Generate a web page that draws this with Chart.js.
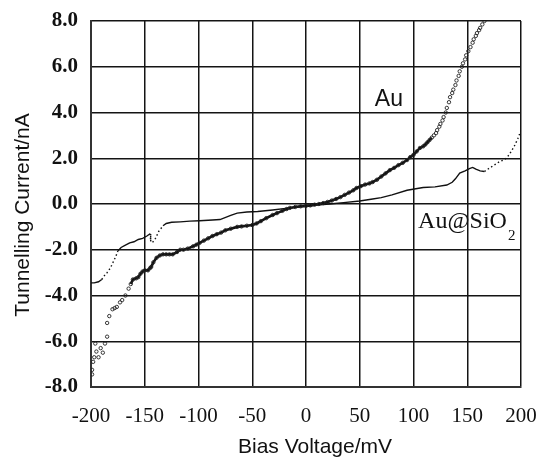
<!DOCTYPE html>
<html>
<head>
<meta charset="utf-8">
<script src="https://cdn.jsdelivr.net/npm/chart.js@4/dist/chart.umd.min.js"></script>
<style>
  html, body { margin: 0; padding: 0; background: #fff; }
  #wrap { width: 539px; height: 457px; }
</style>
</head>
<body>
<div id="wrap"><canvas id="c" width="539" height="457"></canvas></div>
<script>
// Axis ticks and their printed labels
const xTicks = [-200, -150, -100, -50, 0, 50, 100, 150, 200];
const xTickLabels = ['-200', '-150', '-100', '-50', '0', '50', '100', '150', '200'];
const yTicks = [-8, -6, -4, -2, 0, 2, 4, 6, 8];
const yTickLabels = ['-8.0', '-6.0', '-4.0', '-2.0', '0.0', '2.0', '4.0', '6.0', '8.0'];
const axisTitles = ['Bias Voltage/mV', 'Tunnelling Current/nA'];

// I–V curve of the bare Au junction (bias in mV, current in nA)
const auVoltage = [
  -199, -199, -198, -197, -196, -195, -193, -191, -189, -187, -185, -185, -183, -180, -178, -176,
  -173, -171, -168, -165, -163, -161, -158, -156, -154, -152, -150, -147, -145, -144, -142, -139,
  -136, -133, -130, -127, -124, -120, -117, -114, -110, -105, -102, -99, -95, -91, -87, -83,
  -79, -75, -70, -64, -60, -55, -50, -46, -42, -37, -31, -27, -22, -18, -15, -10,
  -5, 0, 4, 8, 12, 16, 20, 24, 28, 32, 36, 40, 44, 47, 51, 55,
  59, 62, 66, 70, 74, 78, 82, 86, 90, 94, 97, 100, 103, 106, 109, 111,
  113, 115, 117, 119, 121, 122, 124, 125, 127, 128, 130, 131, 133, 134, 136, 137,
  139, 140, 142, 143, 145, 146, 148, 149, 151, 153, 155, 156, 158, 159, 161, 162,
  164, 166
];
const auCurrent = [
  -7.45, -7.25, -6.9, -6.7, -6.1, -6.45, -6.7, -6.3, -6.5, -6.1, -5.8, -5.2, -4.9, -4.6, -4.55, -4.5,
  -4.3, -4.2, -4.0, -3.7, -3.5, -3.3, -3.25, -3.2, -3.05, -2.95, -2.9, -2.9, -2.8, -2.75, -2.55, -2.35,
  -2.25, -2.2, -2.2, -2.2, -2.2, -2.1, -2.0, -2.0, -1.95, -1.85, -1.78, -1.7, -1.6, -1.5, -1.4, -1.32,
  -1.25, -1.15, -1.08, -1.0, -0.98, -0.95, -0.92, -0.85, -0.75, -0.62, -0.48, -0.4, -0.3, -0.22, -0.17, -0.13,
  -0.1, -0.08, -0.06, -0.03, 0.0, 0.04, 0.09, 0.15, 0.22, 0.3, 0.4, 0.5, 0.6, 0.7, 0.78, 0.85,
  0.9, 0.96, 1.06, 1.2, 1.34, 1.48, 1.58, 1.7, 1.8, 1.92, 2.05, 2.15, 2.3, 2.45, 2.52, 2.6,
  2.7, 2.8, 2.9, 3.0, 3.1, 3.23, 3.38, 3.5, 3.65, 3.8, 4.0, 4.2, 4.45, 4.67, 4.85, 5.0,
  5.2, 5.4, 5.6, 5.8, 6.0, 6.15, 6.32, 6.5, 6.68, 6.86, 7.05, 7.2, 7.35, 7.47, 7.6, 7.7,
  7.85, 8.0
];

// I–V curve of the silica-coated Au@SiO2 junction
const sio2Voltage = [
  -200, -197, -193, -190, -187, -185, -182, -180, -177, -175, -172, -168, -164, -160, -156, -152,
  -148, -145, -144.5, -143, -140, -137, -133, -130, -125, -117, -108, -99, -87, -80, -70, -64,
  -55, -45, -31, -15, 0, 10, 22, 35, 50, 62, 70, 80, 94, 109, 120, 131,
  136, 139, 143, 148, 152, 155, 158, 162, 166, 170, 175, 180, 185, 188, 191, 194,
  197, 199, 200
];
const sio2Current = [
  -3.45, -3.45, -3.4, -3.3, -3.1, -3.0, -2.8, -2.6, -2.3, -2.05, -1.9, -1.8, -1.7, -1.65, -1.55, -1.5,
  -1.4, -1.3, -1.6, -1.7, -1.5, -1.2, -0.95, -0.85, -0.8, -0.78, -0.75, -0.73, -0.7, -0.68, -0.5, -0.4,
  -0.35, -0.33, -0.26, -0.17, -0.1, -0.05, 0.0, 0.06, 0.13, 0.22, 0.28, 0.4, 0.6, 0.72, 0.75, 0.83,
  0.95, 1.1, 1.35, 1.45, 1.55, 1.6, 1.52, 1.45, 1.42, 1.55, 1.7, 1.85, 1.95, 2.1, 2.3, 2.55,
  2.85, 3.1, 3.2
];

// In-plot curve labels: text and anchor (mV, nA) of the left baseline
const curveLabels = ['Au', 'Au@SiO', '2'];
const auLabelAt = [64, 4.28];
const sio2LabelAt = [104.3, -1.05];

const toPoints = (xs, ys) => xs.map((x, i) => ({ x: x, y: ys[i] }));

const SANS = '"Liberation Sans", Arial, sans-serif';
const SERIF = '"Liberation Serif", "Times New Roman", serif';

// Curve labels and axis titles, placed relative to the scales
const annotationPlugin = {
  id: 'annotations',
  afterDraw(chart) {
    const { ctx, chartArea, scales: { x, y } } = chart;
    ctx.save();
    ctx.fillStyle = '#111';
    ctx.textAlign = 'left';
    ctx.textBaseline = 'alphabetic';
    ctx.font = '23px ' + SANS;
    ctx.fillText(curveLabels[0], x.getPixelForValue(auLabelAt[0]), y.getPixelForValue(auLabelAt[1]));
    ctx.font = '24px ' + SERIF;
    const sx = x.getPixelForValue(sio2LabelAt[0]);
    const sy = y.getPixelForValue(sio2LabelAt[1]);
    ctx.fillText(curveLabels[1], sx, sy);
    const w = ctx.measureText(curveLabels[1]).width;
    ctx.font = '15px ' + SERIF;
    ctx.fillText(curveLabels[2], sx + w + 1, sy + 12);

    // axis titles
    ctx.font = '21px ' + SANS;
    ctx.textAlign = 'center';
    ctx.fillText(axisTitles[0], (chartArea.left + chartArea.right) / 2 + 9, 453);
    ctx.translate(29, (chartArea.top + chartArea.bottom) / 2 + 11);
    ctx.rotate(-Math.PI / 2);
    ctx.fillText(axisTitles[1], 0, 0);
    ctx.restore();
  }
};

const gridColor = '#141414';

new Chart(document.getElementById('c'), {
  type: 'scatter',
  data: {
    datasets: [
      {
        label: 'Au',
        data: toPoints(auVoltage, auCurrent),
        showLine: true,
        borderColor: '#111',
        borderWidth: 2.6,
        pointRadius: 1.7,
        pointBorderWidth: 0.9,
        pointBorderColor: '#222',
        pointBackgroundColor: 'rgba(255,255,255,0)',
        pointHoverRadius: 1.7,
        segment: {
          borderColor: ctx => (ctx.p0.parsed.y > 2.95 || ctx.p1.parsed.y > 2.95 ||
                               ctx.p0.parsed.y < -3.6 || ctx.p1.parsed.y < -3.6) ? 'rgba(0,0,0,0)' : undefined
        }
      },
      {
        label: 'Au@SiO2',
        data: toPoints(sio2Voltage, sio2Current),
        showLine: true,
        borderColor: '#111',
        borderWidth: 1.4,
        pointRadius: 0,
        segment: {
          borderDash: ctx => ((ctx.p0.parsed.x >= 166) ||
                              (ctx.p0.parsed.x >= -190 && ctx.p1.parsed.x <= -175) ||
                              (ctx.p0.parsed.x >= -145 && ctx.p1.parsed.x <= -133)) ? [1.5, 2.5] : undefined
        }
      }
    ]
  },
  options: {
    responsive: false,
    devicePixelRatio: 1,
    animation: false,
    layout: { padding: { left: 0, right: 18, top: 21, bottom: 0 } },
    plugins: { legend: { display: false }, tooltip: { enabled: false } },
    scales: {
      x: {
        type: 'linear',
        min: -200, max: 200,
        afterBuildTicks: s => { s.ticks = xTicks.map(v => ({ value: v })); },
        afterFit: s => { s.height = 70; s.paddingLeft = 0; s.paddingRight = 0; },
        grid: { color: gridColor, lineWidth: 1.5, drawTicks: false },
        border: { color: '#333', width: 2 },
        ticks: {
          padding: 17,
          color: '#111',
          font: { family: SERIF, size: 21 },
          callback: v => xTickLabels[xTicks.indexOf(v)]
        }
      },
      y: {
        type: 'linear',
        min: -8, max: 8,
        afterBuildTicks: s => { s.ticks = yTicks.map(v => ({ value: v })); },
        afterFit: s => { s.width = 91; s.paddingTop = 0; s.paddingBottom = 0; },
        grid: { color: gridColor, lineWidth: 1.5, drawTicks: false },
        border: { color: '#333', width: 2 },
        ticks: {
          padding: 13,
          color: '#111',
          font: { family: SERIF, size: 21, weight: 'bold' },
          callback: v => yTickLabels[yTicks.indexOf(v)]
        }
      }
    }
  },
  plugins: [annotationPlugin]
});
</script>
</body>
</html>
